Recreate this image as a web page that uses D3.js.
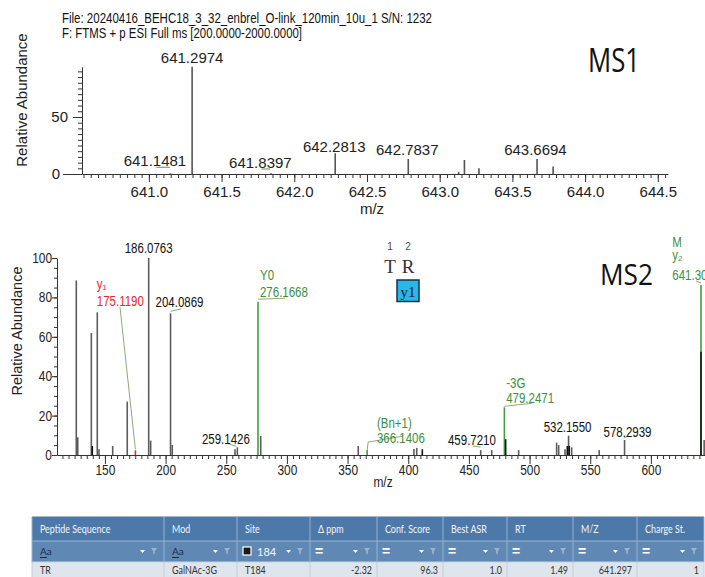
<!DOCTYPE html>
<html><head><meta charset="utf-8">
<script src="https://cdn.jsdelivr.net/npm/d3@7"></script>
<style>
body{margin:0;background:#fff;}
svg{display:block;}
</style></head><body>
<svg id="c" width="705" height="577"></svg>
<script>
// ================= DATA =================
const headerLines = [
  "File: 20240416_BEHC18_3_32_enbrel_O-link_120min_10u_1 S/N: 1232",
  "F: FTMS + p ESI Full ms [200.0000-2000.0000]"
];

// MS1 spectrum
const ms1Mz  = [641.1481, 641.2974, 641.8397, 642.2813, 642.7837, 643.13, 643.17, 643.27, 643.6694, 643.78];
const ms1Int = [0.6,      94,       0.6,      18.2,     13.2,     2,      12.3,   5,      13.2,     6.5];
const ms1LabelMz   = [641.2974, 641.1481, 641.8397, 642.2813, 642.7837, 643.6694];
const ms1LabelText = ["641.2974", "641.1481", "641.8397", "642.2813", "642.7837", "643.6694"];
const ms1XTicks = [641.0, 641.5, 642.0, 642.5, 643.0, 643.5, 644.0, 644.5];
const ms1YTicks = [0, 50];

// MS2 spectrum
const ms2Mz  = [126.4, 127.6, 138.8, 139.6, 143.7, 145.1, 156.4, 168.4, 175.1190, 186.0763, 187.7, 204.0869, 205.5,
                257.2, 259.1426, 276.1668, 278.4, 358.8, 366.1406, 404.7, 407.0, 411.6, 459.7210, 468.8, 479.2471, 480.3,
                491.0, 522.3, 524.0, 529.2, 531.1, 532.1550, 532.7, 534.7, 557.4, 578.2939, 641.30, 641.30, 643.9];
const ms2Int = [88.6, 9.0, 61.9, 4.6, 72.4, 2.9, 4.6, 27.1, 2.4, 100, 7.3, 71.9, 5.1,
                2.9, 3.9, 77.8, 9.6, 4.6, 2.5, 3.1, 3.6, 2.9, 2.5, 2.5, 24.2, 8.0,
                2.5, 6.3, 5.0, 2.9, 4.6, 9.8, 4.6, 3.9, 2.5, 7.6, 86.3, 52.4, 7.6];
// g = grey, k = black, G = green (annotated), R = red (annotated)
const ms2Kind = ["g","g","g","k","g","g","g","g","R","g","g","g","g",
                 "g","g","G","g","g","G","g","g","k","g","g","G","k",
                 "g","g","g","g","k","g","k","g","g","g","G","k","g"];
const ms2XTicks = [150, 200, 250, 300, 350, 400, 450, 500, 550, 600];
const ms2YTicks = [0, 20, 40, 60, 80, 100];

const ms2AnnotMz    = [186.0763, 175.1190, 204.0869, 259.1426, 276.1668, 366.1406, 459.7210, 479.2471, 532.1550, 578.2939, 641.30];
const ms2AnnotText  = [["186.0763"], ["y\u2081","175.1190"], ["204.0869"], ["259.1426"], ["Y0","276.1668"], ["(Bn+1)","366.1406"],
                       ["459.7210"], ["-3G","479.2471"], ["532.1550"], ["578.2939"], ["M","y\u2082","641.30"]];
const ms2AnnotColor = ["k","R","k","k","G","G","k","G","k","k","G"];

const peptideSeq = ["T","R"];
const peptidePos = ["1","2"];
const fragmentBox = "y1";

// Results table
const tableCols   = ["Peptide Sequence","Mod","Site","\u0394 ppm","Conf. Score","Best ASR","RT","M/Z","Charge St."];
const tableFilter = ["Aa","Aa","184","=","=","=","=","=","="];
const tableRow    = ["TR","GalNAc-3G","T184","-2.32","96.3","1.0","1.49","641.297","1"];

// ================= LAYOUT / STYLE =================
const colors = { g:"#5c5c5c", k:"#111111", G:"#3f9e45", R:"#e8272c" };
const labelColors = { k:"#111111", G:"#3a8f3e", R:"#e8272c" };
const SANS = "'Liberation Sans', Arial, sans-serif";
const ms2AnnotLayout = [
  {anchor:"middle", dx:0,     dys:[-5]},
  {anchor:"start",  dx:-38.6, dys:[-161.3,-144.3], leader:[[-15.4,-143.3],[0,-1]]},
  {anchor:"start",  dx:-15,   dys:[-6.4],  leader:[[0,-2],[10.7,-4.5]]},
  {anchor:"start",  dx:-35.4, dys:[-3.3],  leader:[[-10.4,-4],[-1,-1]]},
  {anchor:"start",  dx:2,     dys:[-21.7,-4.7], leader:[[0,-2.5],[27,-3.5]]},
  {anchor:"start",  dx:9.8,   dys:[-22.1,-7.1], leader:[[0,0],[1,-8],[36,-14]]},
  {anchor:"start",  dx:-32.7, dys:[-5.1],  leader:[[-8,-4],[0,-3]]},
  {anchor:"start",  dx:1.8,   dys:[-19.3,-4.3], leader:[[0,-1],[27,-4]]},
  {anchor:"middle", dx:-1,    dys:[-3.7]},
  {anchor:"middle", dx:3,     dys:[-3],    leader:[[-1,-2],[4,-4]]},
  {anchor:"start",  dx:-28.7, dys:[-38.3,-24.5,-5], leader:[[-5,-4],[0,-2]]}
];
const ms1AnnotLayout = [
  {dx:0,     dy:-3.4},
  {dx:-15.5, dy:-7.3, hook:[[-14,-6],[-0.5,-6]]},
  {dx:-10.6, dy:-5.3, hook:[[-9.4,-4.3],[-1,-4.3]]},
  {dx:-1,    dy:-1.4},
  {dx:-1,    dy:-4},
  {dx:-1.6,  dy:-4}
];

const svg = d3.select("#c");
function squeeze(sel, f){
  sel.each(function(){
    const w = this.getComputedTextLength();
    d3.select(this).attr("textLength", w*f).attr("lengthAdjust","spacingAndGlyphs");
  });
  return sel;
}
function fitTo(sel, w){ return sel.attr("textLength", w).attr("lengthAdjust","spacingAndGlyphs"); }

// ---------- Header ----------
const hdrW = [370, 240];
svg.append("g").selectAll("text").data(headerLines).join("text")
  .attr("x", 62).attr("y", (d,i)=>22.7 + i*15)
  .attr("font-family", SANS).attr("font-size", 15).attr("fill","#111")
  .text(d=>d)
  .each(function(d,i){ fitTo(d3.select(this), hdrW[i]); });

// ================= MS1 =================
const x1 = d3.scaleLinear().domain([640.54, 644.57]).range([82, 668]);
const y1 = d3.scaleLinear().domain([0, 94]).range([174, 66.8]);
const g1 = svg.append("g");

// minor ticks
g1.append("g").attr("transform","translate(0,174)")
  .call(d3.axisBottom(x1).tickValues(d3.range(640.55, 644.56, 0.05)).tickSize(4).tickFormat("").tickSizeOuter(0))
  .call(g=>g.select(".domain").remove());
const gx1 = g1.append("g").attr("transform","translate(0,174)")
  .call(d3.axisBottom(x1).tickValues(ms1XTicks).tickSize(8).tickPadding(4).tickFormat(d3.format(".1f")).tickSizeOuter(0));
gx1.selectAll("text").attr("font-family", SANS).attr("font-size", 15).attr("fill","#222");

g1.append("g").attr("transform","translate(82,0)")
  .call(d3.axisLeft(y1).tickValues(d3.range(0, 91, 5)).tickSize(4).tickFormat("").tickSizeOuter(0))
  .call(g=>g.select(".domain").remove());
const gy1 = g1.append("g").attr("transform","translate(82,0)")
  .call(d3.axisLeft(y1).tickValues(ms1YTicks).tickSize(9).tickPadding(5).tickSizeOuter(0));
gy1.selectAll("text").attr("font-family", SANS).attr("font-size", 15).attr("fill","#222");
gy1.selectAll(".tick").filter(d=>d===0).select("line").attr("x2",-19);
gy1.selectAll(".tick").filter(d=>d===0).select("text").attr("x",-22);
g1.selectAll(".domain, .tick line").attr("stroke","#333");

g1.append("g").selectAll("line").data(ms1Mz).join("line")
  .attr("x1", d=>x1(d)).attr("x2", d=>x1(d))
  .attr("y1", y1(0)).attr("y2", (d,i)=>y1(ms1Int[i]))
  .attr("stroke","#555").attr("stroke-width",1.6);

ms1LabelMz.forEach((mz,i)=>{
  const idx = ms1Mz.indexOf(mz);
  const px = x1(mz), py = y1(ms1Int[idx]);
  const L = ms1AnnotLayout[i];
  g1.append("text").attr("x", px+L.dx).attr("y", py+L.dy).attr("text-anchor","middle")
    .attr("font-family", SANS).attr("font-size", 15).attr("fill","#222").text(ms1LabelText[i]);
  if (L.hook) g1.append("path").attr("d", d3.line()(L.hook.map(p=>[px+p[0], py+p[1]])))
    .attr("fill","none").attr("stroke","#7fa06c").attr("stroke-width",1.2);
});

g1.append("text").attr("transform","translate(27,100) rotate(-90)").attr("text-anchor","middle")
  .attr("font-family", SANS).attr("font-size", 15).attr("fill","#222").text("Relative Abundance");
g1.append("text").attr("x", 372).attr("y", 214).attr("text-anchor","middle")
  .attr("font-family", SANS).attr("font-size", 15).attr("fill","#222").text("m/z");
fitTo(g1.append("text").attr("x", 588).attr("y", 72)
  .attr("font-family","'Open Sans', 'Noto Sans', sans-serif").attr("font-size", 32).attr("fill","#111").text("MS1"), 52);

// ================= MS2 =================
const x2 = d3.scaleLinear().domain([110.5, 644.6]).range([57, 705]);
const y2 = d3.scaleLinear().domain([0, 100]).range([455, 258]);
const g2 = svg.append("g");

g2.append("g").attr("transform","translate(0,455)")
  .call(d3.axisBottom(x2).tickValues(d3.range(115, 645, 5)).tickSize(4).tickFormat("").tickSizeOuter(0))
  .call(g=>g.select(".domain").remove());
const gx2 = g2.append("g").attr("transform","translate(0,455)")
  .call(d3.axisBottom(x2).tickValues(ms2XTicks).tickSize(9).tickPadding(1).tickSizeOuter(0));
gx2.selectAll("text").attr("font-family", SANS).attr("font-size", 14).attr("fill","#222").call(squeeze, 0.85);

g2.append("g").attr("transform","translate(57,0)")
  .call(d3.axisLeft(y2).tickValues(d3.range(0, 101, 5)).tickSize(3).tickFormat("").tickSizeOuter(0))
  .call(g=>g.select(".domain").remove());
const gy2 = g2.append("g").attr("transform","translate(57,0)")
  .call(d3.axisLeft(y2).tickValues(ms2YTicks).tickSize(5).tickPadding(0).tickSizeOuter(0));
gy2.selectAll("text").attr("font-family", SANS).attr("font-size", 14).attr("fill","#222")
  .attr("text-anchor","end").call(squeeze, 0.85);
g2.selectAll(".domain, .tick line").attr("stroke","#333");

// peaks: grey first, then annotated, then black overlays
const order = ["g","G","R","k"];
const peakIdx = d3.range(ms2Mz.length).sort((a,b)=>order.indexOf(ms2Kind[a]) - order.indexOf(ms2Kind[b]));
g2.append("g").selectAll("line").data(peakIdx).join("line")
  .attr("x1", i=>x2(ms2Mz[i])).attr("x2", i=>x2(ms2Mz[i]))
  .attr("y1", y2(0)).attr("y2", i=>y2(ms2Int[i]))
  .attr("stroke", i=>colors[ms2Kind[i]]).attr("stroke-width",1.6);

// annotations
ms2AnnotMz.forEach((mz,i)=>{
  let best = -1;
  ms2Mz.forEach((m,j)=>{ if (Math.abs(m-mz)<0.01 && (best<0 || ms2Int[j]>ms2Int[best])) best=j; });
  const px = x2(mz), py = y2(ms2Int[best]);
  const L = ms2AnnotLayout[i];
  const col = labelColors[ms2AnnotColor[i]];
  if (L.leader) g2.append("path").attr("d", d3.line()(L.leader.map(p=>[px+p[0], py+p[1]])))
    .attr("fill","none").attr("stroke","#7f9f6c").attr("stroke-width",0.9);
  ms2AnnotText[i].forEach((t,k)=>{
    g2.append("text").attr("x", px+L.dx).attr("y", py+L.dys[k]).attr("text-anchor", L.anchor)
      .attr("font-family", SANS).attr("font-size", 14).attr("fill", col).text(t).call(squeeze, 0.82);
  });
});

// peptide sequence
const seqX = [390, 408];
const sg = g2.append("g");
sg.selectAll("text.pos").data(peptidePos).join("text").attr("class","pos")
  .attr("x",(d,i)=>seqX[i]).attr("y",250).attr("text-anchor","middle")
  .attr("font-family", SANS).attr("font-size",10).attr("fill",(d,i)=>i?"#2f4f8f":"#6a3434").text(d=>d);
sg.selectAll("text.aa").data(peptideSeq).join("text").attr("class","aa")
  .attr("x",(d,i)=>seqX[i]).attr("y",272.5).attr("text-anchor","middle")
  .attr("font-family","'Liberation Serif', 'Times New Roman', serif").attr("font-size",19).attr("fill","#333").text(d=>d);
sg.append("rect").attr("x",397).attr("y",280).attr("width",22).attr("height",21.5)
  .attr("fill","#2ab6e6").attr("stroke","#173048").attr("stroke-width",1.5);
sg.append("text").attr("x",408).attr("y",296.5).attr("text-anchor","middle")
  .attr("font-family","'Liberation Serif', 'Times New Roman', serif").attr("font-size",15).attr("fill","#1a1a2a").text(fragmentBox);

g2.append("text").attr("transform","translate(22,331) rotate(-90)").attr("text-anchor","middle")
  .attr("font-family", SANS).attr("font-size", 14.5).attr("fill","#222").text("Relative Abundance");
g2.append("text").attr("x", 383).attr("y", 487).attr("text-anchor","middle")
  .attr("font-family", SANS).attr("font-size", 14).attr("fill","#222").text("m/z").call(squeeze,0.85);
fitTo(g2.append("text").attr("x", 600).attr("y", 285)
  .attr("font-family","'Open Sans', 'Noto Sans', sans-serif").attr("font-size", 30).attr("fill","#111").text("MS2"), 53);

// ================= TABLE =================
const colW = [132,73,73,67,66,64,66,64,67];
const colL = []; colW.reduce((acc,w)=>{ colL.push(acc); return acc+w; }, 32);
const tg = svg.append("g");
const TFONT = "Lato, 'Open Sans', sans-serif";
tg.append("rect").attr("x",32).attr("y",516.5).attr("width",672).attr("height",24.5).attr("fill","#4c79a9");
tg.append("rect").attr("x",32).attr("y",541).attr("width",672).attr("height",21).attr("fill","#6088b4");
tg.append("rect").attr("x",32).attr("y",562).attr("width",672).attr("height",16).attr("fill","#dfe5ec");
tg.append("line").attr("x1",32).attr("x2",704).attr("y1",516.5).attr("y2",516.5).attr("stroke","#aab7c6");
tg.append("line").attr("x1",32).attr("x2",704).attr("y1",541).attr("y2",541).attr("stroke","#98b6d4");
tg.append("line").attr("x1",32).attr("x2",704).attr("y1",562).attr("y2",562).attr("stroke","#c9d3de");
tg.selectAll("line.sep").data(colL.concat([704])).join("line").attr("class","sep")
  .attr("x1",d=>d).attr("x2",d=>d).attr("y1",517).attr("y2",562).attr("stroke","#93b3d3").attr("stroke-width",1);
tg.selectAll("line.sep2").data(colL.concat([704])).join("line").attr("class","sep2")
  .attr("x1",d=>d).attr("x2",d=>d).attr("y1",562).attr("y2",578).attr("stroke","#c3ccd6").attr("stroke-width",1);

tg.selectAll("text.h").data(tableCols).join("text").attr("class","h")
  .attr("x",(d,i)=>colL[i]+8).attr("y",533)
  .attr("font-family",TFONT).attr("font-size",10.5).attr("fill","#f3f6fa").text(d=>d).call(squeeze,0.85);

tableFilter.forEach((f,i)=>{
  const L = colL[i], R = L + colW[i];
  if (f === "Aa") {
    tg.append("text").attr("x",L+8).attr("y",555).attr("font-family",TFONT).attr("font-size",10).attr("fill","#1c2b45").text(f);
    tg.append("line").attr("x1",L+8).attr("x2",L+15).attr("y1",557.5).attr("y2",557.5).attr("stroke","#1c2b45");
  } else if (f === "=") {
    tg.append("text").attr("x",L+5).attr("y",556).attr("font-family",SANS).attr("font-weight","bold").attr("font-size",14).attr("fill","#fff").text(f);
  } else {
    tg.append("rect").attr("x",L+6).attr("y",547).attr("width",8).attr("height",8).attr("fill","#1a1a1a").attr("stroke","#fff").attr("stroke-width",1.2);
    tg.append("text").attr("x",L+20).attr("y",555.5).attr("font-family",TFONT).attr("font-size",11).attr("fill","#f3f6fa").text(f);
  }
  tg.append("path").attr("d",`M${R-24},550 h5 l-2.5,3 z`).attr("fill","#fff");
  tg.append("path").attr("d",`M${R-13},548 h6 l-2.2,3 v3.5 l-1.6,-1 v-2.5 z`).attr("fill","#9fb4cb");
});

tg.selectAll("text.d").data(tableRow).join("text").attr("class","d")
  .attr("x",(d,i)=> i<3 ? colL[i]+8 : colL[i]+colW[i]-5)
  .attr("y",573.5).attr("text-anchor",(d,i)=> i<3 ? "start" : "end")
  .attr("font-family",TFONT).attr("font-size",10.5).attr("fill","#333").text(d=>d).call(squeeze,0.85);
</script>
</body></html>
